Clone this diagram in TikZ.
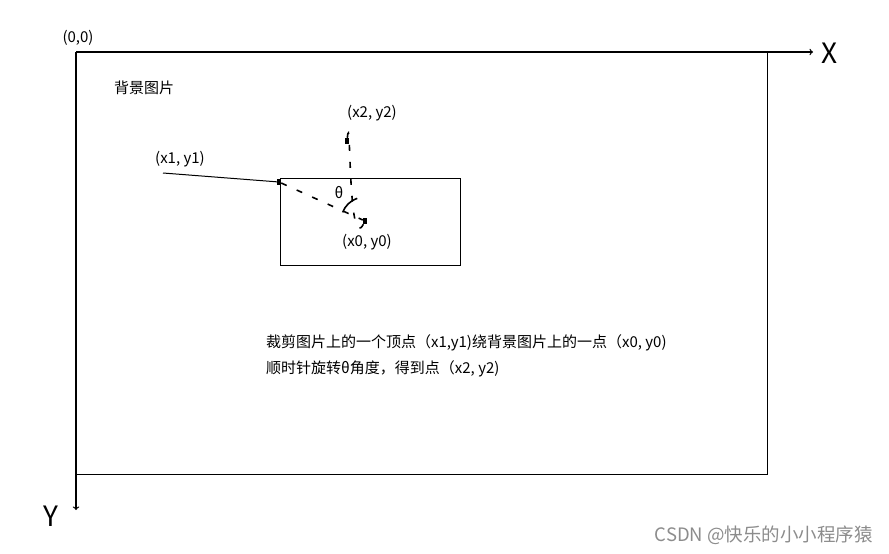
\documentclass[tikz,border=0pt]{standalone}
\usepackage{fontspec}
\setmainfont{Noto Sans CJK SC}
\usetikzlibrary{arrows}
\tikzstyle{Frame}=[draw=black, line width=1pt]
\tikzstyle{Axis}=[-to, line width=1.3pt]
\tikzstyle{PointMark}=[rectangle, fill=black, inner sep=0pt, minimum width=4pt, minimum height=6pt]
\tikzstyle{PtLabel}=[font=\fontsize{15}{17}\selectfont, inner sep=1pt]
\tikzstyle{NoteText}=[PtLabel, anchor=west]
\tikzstyle{AxisLabel}=[font=\fontsize{28}{30}\selectfont, inner sep=0pt]
\tikzstyle{RotLine}=[line width=1.6pt, dash pattern=on 6pt off 11pt]
\tikzstyle{Watermark}=[font=\fontsize{18.5}{20}\selectfont, text=black!45, inner sep=0pt, anchor=east]

\begin{document}
\begin{tikzpicture}[x=1pt, y=-1pt]
\useasboundingbox (0,0) rectangle (889,554);
\coordinate (O) at (76,52);
\coordinate (XEnd) at (813,52);
\coordinate (YEnd) at (76,510);
\draw[Frame] (O) rectangle (767,474);
\draw[Frame] (280,178) rectangle (460,265);
\draw[Axis] (O) -- (XEnd);
\draw[Axis] (O) -- (YEnd);

\node[AxisLabel](XLabel) at (830,53) {X};
\node[AxisLabel](YLabel) at (51,516) {Y};
\node[PtLabel](Origin) at (78,38) {(0,0)};
\node[PtLabel](BgTitle) at (144,88) {背景图片};

\node[PointMark](P1) at (279,182) {};
\node[PointMark](P2) at (347,141) {};
\node[PointMark](P0) at (365,221) {};
\node[PtLabel](L1) at (180,159) {(x1, y1)};
\node[PtLabel](L2) at (372,113) {(x2, y2)};
\node[PtLabel](L0) at (367,242) {(x0, y0)};
\node[PtLabel](Theta) at (339,193) {θ};

\coordinate (L1Tail) at (163,173);
\draw[line width=1pt](L1Tail) -- (P1);
\draw[RotLine](P1) -- (P0);
\draw[RotLine](P2) to[out=84, in=243] (P0);
\draw[line width=1.6pt](P0) ++(201:24) arc[start angle=201, end angle=251, radius=24];

\node[NoteText](Note1) at (265,343) {裁剪图片上的一个顶点（x1,y1)绕背景图片上的一点（x0, y0)};
\node[NoteText](Note2) at (265,369) {顺时针旋转θ角度，得到点（x2, y2)};
\node[Watermark](Wm) at (873,535) {CSDN @快乐的小小程序猿};
\end{tikzpicture}
\end{document}
